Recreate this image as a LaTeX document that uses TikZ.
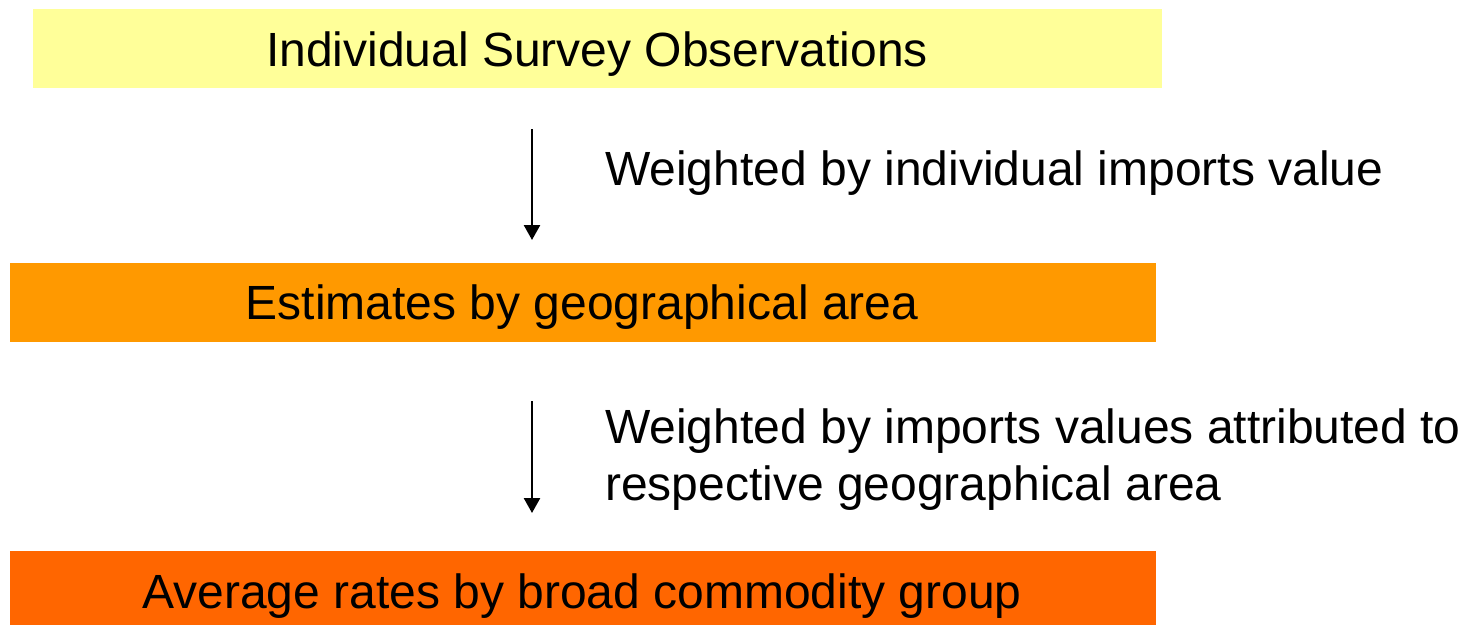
\documentclass[tikz,border=0pt]{standalone}
\usepackage{fontspec}
\setmainfont{Liberation Sans}
\usetikzlibrary{arrows.meta}
\definecolor{boxyellow}{HTML}{FFFF99}
\definecolor{boxorange}{HTML}{FF9900}
\definecolor{boxdark}{HTML}{FF6600}
\begin{document}
\begin{tikzpicture}[x=1pt,y=-1pt,
  box/.style={draw=none,inner sep=0pt,minimum height=#1,anchor=north west},
  txt/.style={inner sep=0pt,font=\fontsize{48}{57}\selectfont},
  flow/.style={line width=2.5pt,-{Triangle[width=16pt,length=15pt]}}]
\useasboundingbox (0,0) rectangle (1468,625);
% boxes
\node[box=79pt,fill=boxyellow,minimum width=1129pt] (b1) at (33,9) {};
\node[box=79pt,fill=boxorange,minimum width=1146pt] (b2) at (10,263) {};
\node[box=74pt,fill=boxdark,minimum width=1146pt] (b3) at (10,551) {};
% box texts
\node[txt,anchor=base] (t1) at (597,66) {Individual Survey Observations};
\node[txt,anchor=base] (t2) at (582,319) {Estimates by geographical area};
\node[txt,anchor=base] (t3) at (582,608) {Average rates by broad commodity group};
% arrows
\coordinate (a1s) at (532,129);
\coordinate (a1e) at (532,240);
\coordinate (a2s) at (532,401);
\coordinate (a2e) at (532,513);
\draw[flow] (a1s) -- (a1e);
\draw[flow] (a2s) -- (a2e);
% labels
\node[txt,anchor=base west] (l1) at (605,185) {Weighted by individual imports value};
\node[txt,anchor=base west] (l2a) at (605,443) {Weighted by imports values attributed to};
\node[txt,anchor=base west] (l2b) at (605,500) {respective geographical area};
\end{tikzpicture}
\end{document}
